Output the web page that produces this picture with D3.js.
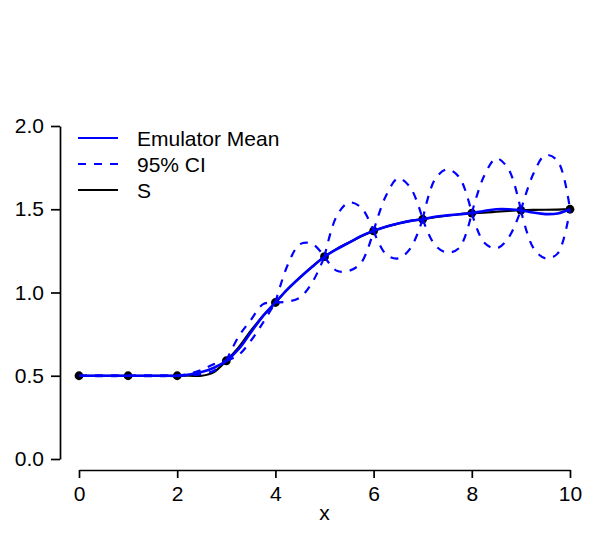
<!DOCTYPE html>
<html>
<head>
<meta charset="utf-8">
<script src="https://cdn.jsdelivr.net/npm/d3@7"></script>
<style>
  body { margin: 0; background: #fff; }
  svg text { font-family: "Liberation Sans", Arial, Helvetica, sans-serif; }
</style>
</head>
<body>
<div id="chart"></div>
<script>
// design points (black dots)
const designX = [0, 1, 2, 3, 4, 5, 6, 7, 8, 9, 10];
const designY = [0.5, 0.5, 0.5, 0.59, 0.94, 1.215, 1.37, 1.44, 1.477, 1.494, 1.5];

// curves read on a 0.25 grid
const gridX = d3.range(0, 10.001, 0.25);
const sVals = [
  0.5, 0.5, 0.5, 0.5,  0.5, 0.5, 0.5, 0.5,  0.5, 0.5, 0.5, 0.522,
  0.59, 0.67, 0.77, 0.86,  0.94, 1.02, 1.09, 1.155,  1.215, 1.262, 1.3, 1.338,
  1.37, 1.395, 1.414, 1.43,  1.44, 1.452, 1.462, 1.47,  1.477, 1.48, 1.485, 1.49,
  1.494, 1.496, 1.497, 1.498,  1.5
];
const meanVals = [
  0.5, 0.5, 0.5, 0.5,  0.5, 0.5, 0.5, 0.5,  0.5, 0.507, 0.522, 0.548,
  0.59, 0.66, 0.76, 0.86,  0.94, 1.02, 1.09, 1.155,  1.215, 1.26, 1.3, 1.34,
  1.37, 1.395, 1.415, 1.43,  1.44, 1.455, 1.463, 1.47,  1.477, 1.49, 1.5, 1.5,
  1.494, 1.48, 1.471, 1.475,  1.5
];
const upperVals = [
  0.5, 0.502, 0.502, 0.502,  0.5, 0.502, 0.502, 0.502,  0.5, 0.512, 0.535, 0.57,
  0.59, 0.735, 0.835, 0.93,  0.94, 1.165, 1.29, 1.292,  1.215, 1.46, 1.54, 1.51,
  1.37, 1.58, 1.685, 1.63,  1.44, 1.68, 1.74, 1.69,  1.477, 1.7, 1.805, 1.74,
  1.494, 1.71, 1.825, 1.79,  1.5
];
const lowerVals = [
  0.5, 0.498, 0.498, 0.498,  0.5, 0.498, 0.498, 0.498,  0.5, 0.502, 0.51, 0.53,
  0.59, 0.625, 0.71, 0.82,  0.94, 0.945, 0.97, 1.06,  1.215, 1.13, 1.13, 1.18,
  1.37, 1.23, 1.205, 1.265,  1.44, 1.285, 1.24, 1.27,  1.477, 1.3, 1.265, 1.33,
  1.494, 1.27, 1.205, 1.235,  1.5
];

const legendLabels = ["Emulator Mean", "95% CI", "S"];
const xTicks = [0, 2, 4, 6, 8, 10];
const yTicks = [0, 0.5, 1, 1.5, 2];

const W = 598, H = 548;
const x = d3.scaleLinear().domain([0, 10]).range([79, 570]);
const y = d3.scaleLinear().domain([0, 2]).range([459, 126]);

const svg = d3.select("#chart").append("svg")
  .attr("width", W).attr("height", H);

// axes, R style: detached, no box
const yAxis = svg.append("g")
  .attr("transform", "translate(60,0)")
  .call(d3.axisLeft(y).tickValues(yTicks).tickFormat(d3.format(".1f"))
    .tickSize(9).tickSizeOuter(0).tickPadding(7));
const xAxis = svg.append("g")
  .attr("transform", "translate(0,470)")
  .call(d3.axisBottom(x).tickValues(xTicks).tickFormat(d3.format("d"))
    .tickSize(8).tickSizeOuter(0).tickPadding(8));

[yAxis, xAxis].forEach(g => {
  g.selectAll("path, line").attr("stroke", "#000").attr("stroke-width", 1.7);
  g.selectAll("text").attr("fill", "#000").style("font-size", "21px");
});

svg.append("text")
  .attr("x", x(5)).attr("y", 520)
  .attr("text-anchor", "middle")
  .style("font-size", "21px")
  .text("x");

const line = d3.line()
  .x(d => x(d[0])).y(d => y(d[1]))
  .curve(d3.curveCatmullRom.alpha(0.5));

const plot = svg.append("g");

// true function S
plot.append("path")
  .attr("d", line(gridX.map((v, i) => [v, sVals[i]])))
  .attr("fill", "none").attr("stroke", "#000").attr("stroke-width", 2.2);

// design points
plot.selectAll("circle")
  .data(designX)
  .enter().append("circle")
  .attr("cx", d => x(d))
  .attr("cy", (d, i) => y(designY[i]))
  .attr("r", 4.4)
  .attr("fill", "#000");

// emulator mean
plot.append("path")
  .attr("d", line(gridX.map((v, i) => [v, meanVals[i]])))
  .attr("fill", "none").attr("stroke", "#0000ff").attr("stroke-width", 2.6);

// CI, drawn one design interval at a time so the pinches stay sharp
[upperVals, lowerVals].forEach(vals => {
  for (let k = 0; k < 10; k++) {
    const seg = d3.range(k * 4, k * 4 + 5).map(i => [gridX[i], vals[i]]);
    plot.append("path")
      .attr("d", line(seg))
      .attr("fill", "none").attr("stroke", "#0000ff")
      .attr("stroke-width", 2.2).attr("stroke-dasharray", "8,8");
  }
});

// legend
const legColors = ["#0000ff", "#0000ff", "#000"];
const legDash = [null, "8,8", null];
const leg = svg.append("g");
legendLabels.forEach((lab, i) => {
  const ly = 138 + i * 26;
  leg.append("line")
    .attr("x1", 78).attr("x2", 118).attr("y1", ly).attr("y2", ly)
    .attr("stroke", legColors[i]).attr("stroke-width", 2.2)
    .attr("stroke-dasharray", legDash[i]);
  leg.append("text")
    .attr("x", 137).attr("y", ly).attr("dy", "0.36em")
    .style("font-size", "21px")
    .text(lab);
});
</script>
</body>
</html>
